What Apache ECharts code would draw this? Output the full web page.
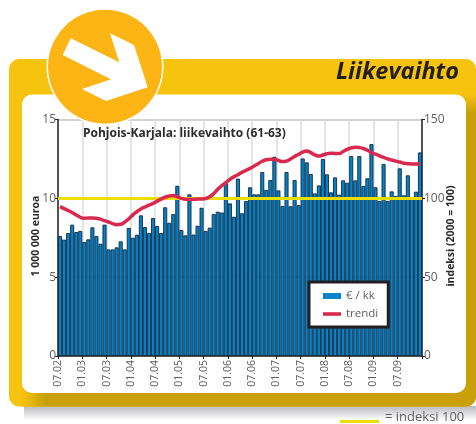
<!DOCTYPE html>
<html>
<head>
<meta charset="utf-8">
<style>
  html, body { margin: 0; background: #fff; }
  #chart { width: 476px; height: 424px; }
</style>
<script src="https://cdn.jsdelivr.net/npm/echarts@6/dist/echarts.min.js"></script>
</head>
<body>
<div id="chart"></div>
<script>
const tickLabels = ['07.02','01.03','07.03','01.04','07.04','01.05','07.05','01.06','07.06','01.07','07.07','01.08','07.08','01.09','07.09'];
const euroValues = [
  7.61,7.38,7.8,8.33,7.86,7.93,7.23,7.4,8.16,7.61,7.12,8.33,
  6.76,6.76,6.89,7.27,6.76,8.12,7.5,7.69,8.92,8.18,7.8,8.75,
  8.24,7.8,9.43,8.45,9.0,10.8,7.99,7.65,10.25,7.7,8.26,9.4,
  7.93,8.14,9.0,9.15,9.1,10.95,9.68,8.83,11.25,9.05,9.83,10.7,
  10.25,10.25,11.67,10.53,11.16,12.64,10.5,9.51,11.67,9.5,11.16,9.57,
  12.53,12.28,11.54,10.31,10.82,12.49,11.52,10.38,11.33,10.23,11.14,10.99,
  12.68,11.14,12.68,10.78,11.27,13.44,10.7,9.83,12.18,9.83,10.44,10.15,
  11.9,10.19,11.46,10.0,10.42,12.91
];
const trendValues = [
  94.7,93.5,92.3,91,89.5,88,87.4,87.5,87.5,87.3,86.8,85.8,
  85,84,83.3,83.5,85,87,89.5,91.5,93.3,94.5,95.7,96.8,
  98.2,99.5,100.7,101.5,101.8,101,100,99.4,99.3,99.4,99.5,99.6,
  99.9,101,103,105.8,108,110,112,113.7,115,116.5,117.8,119,
  120.5,122,123.5,124.5,124.8,124.7,124,123.3,123.6,125,126.5,128,
  129.3,130,129,127.6,126.8,127.5,128.3,128.6,128.5,128.5,129.7,131,
  132,132.4,132.2,131.6,130.5,129,128,127,126,125,124.3,123.6,
  123,122.3,122,121.8,121.8,122
];
const indexLine = 10;

// bars sit in month bands, the date labels sit on the band edges
const barCats = euroValues.map((v, i) => 'm' + i);
const edgeCats = [];
for (let i = 0; i <= euroValues.length; i++) edgeCats.push(i % 6 === 0 ? (tickLabels[i / 6] || '') : '');

const font = '"Open Sans", "Noto Sans", sans-serif';
const grey = '#5f5f5f';

const chart = echarts.init(document.getElementById('chart'));
chart.setOption({
  animation: false,
  backgroundColor: '#fff',
  textStyle: { fontFamily: font },
  grid: { left: 58, right: 54, top: 119.5, bottom: 68 },
  xAxis: [
    { type: 'category', data: barCats, show: false },
    {
      type: 'category', data: edgeCats, boundaryGap: false, position: 'bottom',
      axisLine: { lineStyle: { color: '#222', width: 1.5 } },
      axisTick: { interval: 5, length: 3, lineStyle: { color: '#222' } },
      axisLabel: { interval: 5, rotate: 90, fontSize: 10.5, color: grey, margin: 4 },
      splitLine: { show: true, interval: 5, lineStyle: { color: '#dcdcdc', width: 1.5 } }
    }
  ],
  yAxis: [
    {
      type: 'value', min: 0, max: 15, interval: 5,
      axisLine: { show: true, lineStyle: { color: '#222', width: 1.5 } },
      axisTick: { show: true, length: 3, lineStyle: { color: '#222' } },
      axisLabel: { fontSize: 12, color: grey, margin: 2 },
      splitLine: { show: true, lineStyle: { color: '#d2d2d2', width: 2 } }
    },
    {
      type: 'value', min: 0, max: 150, interval: 50, position: 'right',
      axisLine: { show: true, lineStyle: { color: '#222', width: 1.5 } },
      axisTick: { show: true, length: 3, lineStyle: { color: '#222' } },
      axisLabel: { fontSize: 12, color: grey, margin: 2 },
      splitLine: { show: false }
    }
  ],
  legend: {
    orient: 'vertical', left: 309, top: 282,
    padding: [8, 10, 7, 14], itemGap: 6, itemWidth: 18, itemHeight: 6,
    backgroundColor: '#fff', borderColor: '#231f20', borderWidth: 3,
    textStyle: { fontSize: 11.5, color: grey },
    data: [
      { name: '€ / kk', icon: 'rect', itemStyle: { color: '#0a85cc', borderWidth: 0 } },
      // thin bar inside the icon box, the empty moves keep the full box height
      { name: 'trendi', icon: 'path://M0,0L0,0M0,1.2H18V4.8H0ZM18,6L18,6', itemStyle: { color: '#d9294f', borderWidth: 0 } }
    ]
  },
  series: [
    {
      name: '€ / kk', type: 'bar', data: euroValues, xAxisIndex: 0, yAxisIndex: 0,
      barCategoryGap: 0, z: 2,
      itemStyle: { color: '#0082cc', borderColor: '#16293a', borderWidth: 0.9 },
      markLine: {
        silent: true, symbol: 'none', label: { show: false }, z: 3,
        lineStyle: { color: '#ecdf00', width: 3, type: 'solid' },
        data: [{ yAxis: indexLine }]
      }
    },
    {
      name: 'trendi', type: 'line', data: trendValues, xAxisIndex: 0, yAxisIndex: 1,
      symbol: 'none', smooth: true, z: 4,
      itemStyle: { color: '#d9294f' },
      lineStyle: { color: '#d9294f', width: 3.5 }
    }
  ],
  graphic: [
    // card behind the plot
    { type: 'rect', z: -10, shape: { x: 24, y: 406, width: 452, height: 14 },
      style: { fill: new echarts.graphic.LinearGradient(0, 0, 0, 1, [{ offset: 0, color: '#b9b9bc' }, { offset: 1, color: '#ffffff' }]) } },
    { type: 'rect', z: -9, shape: { x: 9, y: 59, width: 467, height: 347.5, r: 10 }, style: { fill: '#f6c30f' } },
    { type: 'rect', z: -8, shape: { x: 462, y: 94, width: 14, height: 312.5, r: [0, 0, 10, 0] },
      style: { fill: new echarts.graphic.LinearGradient(0, 0, 0, 1, [{ offset: 0, color: '#f6c30f' }, { offset: 0.06, color: '#c9a00a' }, { offset: 1, color: '#c9a00a' }]) } },
    { type: 'rect', z: -8, shape: { x: 22, y: 390, width: 454, height: 16.5, r: [0, 0, 10, 0] },
      style: { fill: new echarts.graphic.LinearGradient(0, 0, 1, 0, [{ offset: 0, color: '#f6c30f' }, { offset: 0.05, color: '#c9a00a' }, { offset: 1, color: '#c9a00a' }]) } },
    { type: 'rect', z: -7, shape: { x: 22, y: 94.5, width: 444, height: 298.5, r: 10 }, style: { fill: '#fff' } },
    // badge
    { type: 'circle', z: 20, shape: { cx: 105, cy: 66.7, r: 58.5 }, style: { fill: '#fff' } },
    { type: 'circle', z: 21, shape: { cx: 105, cy: 66.7, r: 57 }, style: { fill: '#fdb515' } },
    { type: 'polygon', z: 22, shape: { points: [[70.7,38.3],[119.3,62.3],[110,33.3],[134,45],[147.7,87.3],[106,101],[82,89],[111,79.3],[62.7,55]] }, style: { fill: '#fff' } },
    // texts
    { type: 'text', z: 10, style: { text: 'Liikevaihto', x: 459, y: 72, align: 'right', verticalAlign: 'middle', font: 'italic bold 23.5px ' + font, fill: '#231f20' } },
    { type: 'text', z: 10, style: { text: 'Pohjois-Karjala: liikevaihto (61-63)', x: 83, y: 134, verticalAlign: 'middle', font: 'bold 12px ' + font, fill: '#2b2b2b' } },
    { type: 'text', z: 10, rotation: Math.PI / 2, x: 36, y: 236, style: { text: '1 000 000 euroa', align: 'center', verticalAlign: 'middle', font: 'bold 10.5px ' + font, fill: '#2b2b2b' } },
    { type: 'text', z: 10, rotation: Math.PI / 2, x: 451, y: 236, style: { text: 'indeksi (2000 = 100)', align: 'center', verticalAlign: 'middle', font: 'bold 10.5px ' + font, fill: '#2b2b2b' } },
    // index 100 key
    { type: 'rect', z: 10, shape: { x: 340, y: 420, width: 39, height: 3 }, style: { fill: '#ecdf00' } },
    { type: 'text', z: 10, style: { text: '= indeksi 100', x: 385, y: 417, verticalAlign: 'middle', font: '13px ' + font, fill: grey } }
  ]
});
</script>
</body>
</html>
